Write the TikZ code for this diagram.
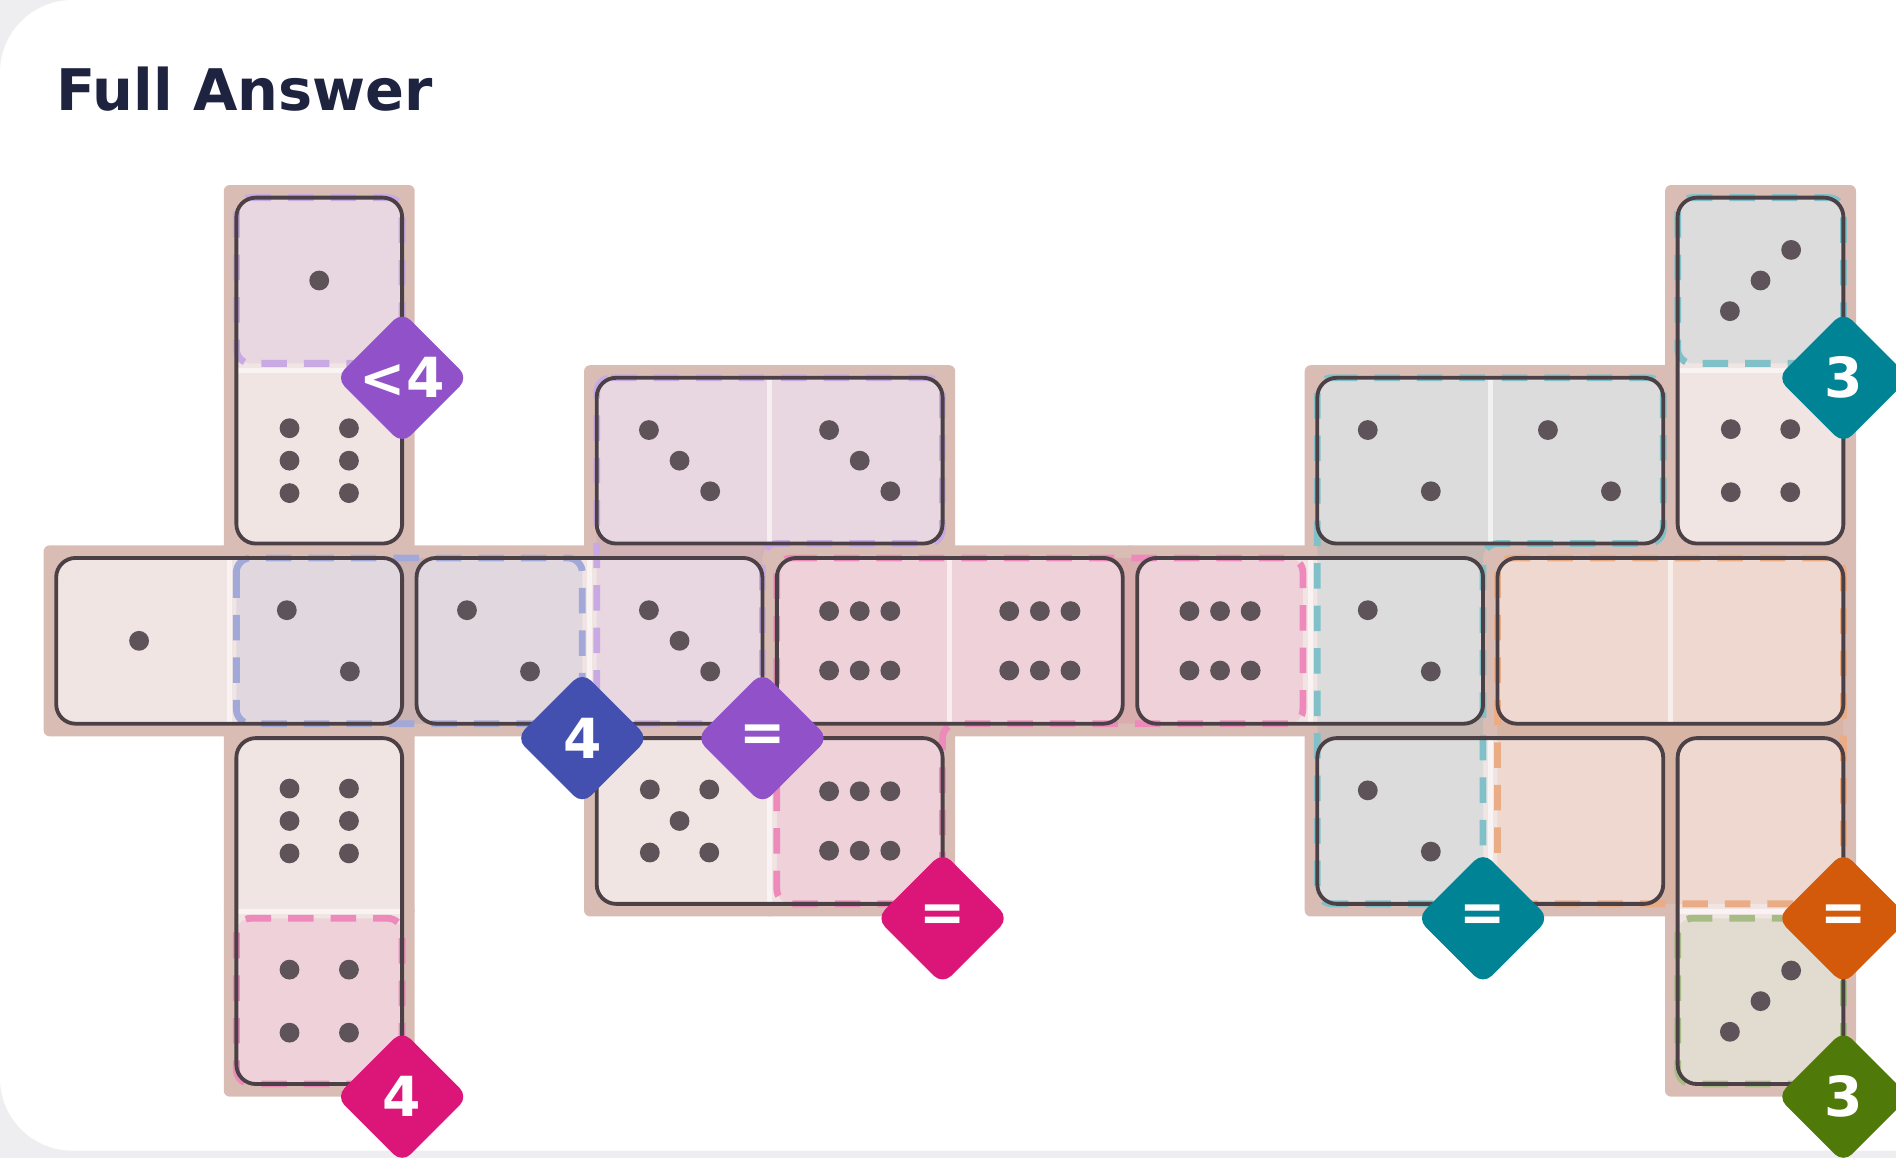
\documentclass[tikz,border=0pt]{standalone}
\usepackage{fontspec}
\setmainfont{DejaVu Sans}
\usetikzlibrary{positioning,shapes.geometric}
\definecolor{pagegrey}{HTML}{EEEEF0}
\definecolor{board}{HTML}{D9BDB4}
\definecolor{cellbase}{HTML}{F1E5E3}
\definecolor{edge}{HTML}{4A4045}
\definecolor{pipc}{HTML}{5E5358}
\definecolor{titlec}{HTML}{1E2440}
\definecolor{purp}{HTML}{9152C9}
\definecolor{teal}{HTML}{008394}
\definecolor{indig}{HTML}{4450B0}
\definecolor{pinkc}{HTML}{DC1578}
\definecolor{orng}{HTML}{D35A0A}
\definecolor{grn}{HTML}{4F7A0A}
\tikzset{
  region/.style={fill=#1, fill opacity=0.09, rounded corners=0.12cm},
  regionline/.style={draw=#1!50, line width=1.6pt, dash pattern=on 6pt off 4pt, rounded corners=0.12cm},
  domino/.style={draw=edge, line width=0.9pt, rounded corners=0.16cm},
  seam/.style={draw=white, opacity=0.6, line width=1.2pt},
  tag/.style={diamond, aspect=1, fill=#1, minimum size=1.1cm, inner sep=0pt, rounded corners=0.1cm,
    text=white, font=\fontsize{13}{13}\selectfont\bfseries}
}
% pip layouts
\def\dieone{0/0}
\def\dietwo{-0.18/-0.17,0.17/0.17}
\def\diethree{-0.17/-0.17,0/0,0.17/0.17}
\def\diethreeb{-0.17/0.17,0/0,0.17/-0.17}
\def\diefour{-0.165/-0.175,0.165/-0.175,-0.165/0.175,0.165/0.175}
\def\diefive{-0.165/-0.175,0.165/-0.175,-0.165/0.175,0.165/0.175,0/0}
\def\diesixv{-0.165/-0.18,0.165/-0.18,-0.165/0,0.165/0,-0.165/0.18,0.165/0.18}
\def\diesixh{-0.17/-0.165,0/-0.165,0.17/-0.165,-0.17/0.165,0/0.165,0.17/0.165}
\newcommand{\putpips}[3]{
  \foreach \dx/\dy in #3 {
    \fill[pipc] (#1+\dx,#2+\dy) circle (0.055);
  }
}
\newcommand{\region}[2]{
  \path[region=#1] #2;
  \path[regionline=#1] #2;
}
\begin{document}
\begin{tikzpicture}[x=1.49cm,y=-1.49cm]
\useasboundingbox (-0.772,-1.557) rectangle (9.752,4.872);
\fill[pagegrey] (-0.772,-1.557) rectangle (9.752,4.872);
\fill[white, rounded corners=0.6cm] (-0.772,-1.557) rectangle (10.5,4.83);
%Title
\node[anchor=west, inner sep=0pt, text=titlec, font=\fontsize{13.5}{13.5}\selectfont\bfseries] (title) at (-0.463,-1.06) {Full Answer};
%Board backdrop
\foreach \c/\r in {1/0,9/0,1/1,3/1,4/1,7/1,8/1,9/1,0/2,1/2,2/2,3/2,4/2,5/2,6/2,7/2,8/2,9/2,1/3,3/3,4/3,7/3,8/3,9/3,1/4,9/4} {
  \fill[board, rounded corners=0.05cm] (\c-0.53,\r-0.53) rectangle (\c+0.53,\r+0.53);
}
%Domino faces
\foreach \a/\b/\cc/\dd in {1/0/1/1,3/1/4/1,0/2/1/2,2/2/3/2,4/2/5/2,6/2/7/2,8/2/9/2,7/1/8/1,9/0/9/1,1/3/1/4,3/3/4/3,7/3/8/3,9/3/9/4} {
  \fill[cellbase, rounded corners=0.16cm] (\a-0.46,\b-0.46) rectangle (\cc+0.46,\dd+0.46);
}
%Regions
\region{purp}{(0.54,-0.46) rectangle (1.46,0.46)}
\region{teal}{(8.54,-0.46) rectangle (9.46,0.46)}
\region{indig}{(0.54,1.54) rectangle (2.46,2.46)}
\region{purp}{(2.54,0.54) -- (4.46,0.54) -- (4.46,1.46) -- (3.46,1.46) -- (3.46,2.46) -- (2.54,2.46) -- cycle}
\region{pinkc}{(3.54,1.54) -- (6.46,1.54) -- (6.46,2.46) -- (4.46,2.46) -- (4.46,3.46) -- (3.54,3.46) -- cycle}
\region{teal}{(6.54,0.54) -- (8.46,0.54) -- (8.46,1.46) -- (7.46,1.46) -- (7.46,3.46) -- (6.54,3.46) -- cycle}
\region{orng}{(7.54,1.54) rectangle (9.46,3.46)}
\region{pinkc}{(0.54,3.54) rectangle (1.46,4.46)}
\region{grn}{(8.54,3.54) rectangle (9.46,4.46)}
%Seams between domino halves
\foreach \x/\y in {3.5/1,0.5/2,2.5/2,4.5/2,6.5/2,8.5/2,7.5/1,3.5/3,7.5/3} {
  \draw[seam] (\x,\y-0.45) -- (\x,\y+0.45);
}
\foreach \x/\y in {1/0.5,9/0.5,1/3.5,9/3.5} {
  \draw[seam] (\x-0.45,\y) -- (\x+0.45,\y);
}
%Dominoes
\foreach \a/\b/\cc/\dd in {1/0/1/1,3/1/4/1,0/2/1/2,2/2/3/2,4/2/5/2,6/2/7/2,8/2/9/2,7/1/8/1,9/0/9/1,1/3/1/4,3/3/4/3,7/3/8/3,9/3/9/4} {
  \draw[domino] (\a-0.46,\b-0.46) rectangle (\cc+0.46,\dd+0.46);
}
%Pips
\putpips{1}{0}{\dieone}
\putpips{1}{1}{\diesixv}
\putpips{3}{1}{\diethree}
\putpips{4}{1}{\diethree}
\putpips{7}{1}{\dietwo}
\putpips{8}{1}{\dietwo}
\putpips{9}{0}{\diethreeb}
\putpips{9}{1}{\diefour}
\putpips{0}{2}{\dieone}
\putpips{1}{2}{\dietwo}
\putpips{2}{2}{\dietwo}
\putpips{3}{2}{\diethree}
\putpips{4}{2}{\diesixh}
\putpips{5}{2}{\diesixh}
\putpips{6}{2}{\diesixh}
\putpips{7}{2}{\dietwo}
\putpips{1}{3}{\diesixv}
\putpips{3}{3}{\diefive}
\putpips{4}{3}{\diesixh}
\putpips{7}{3}{\dietwo}
\putpips{1}{4}{\diefour}
\putpips{9}{4}{\diethreeb}
%Region labels
\node[tag=purp] (lessfour) at (1.46,0.54) {<4};
\node[tag=teal] (topthree) at (9.46,0.54) {3};
\node[tag=indig] (bluefour) at (2.46,2.54) {4};
\node[tag=purp] (purpeq) at (3.46,2.54) {=};
\node[tag=pinkc] (pinkeq) at (4.46,3.54) {=};
\node[tag=teal] (tealeq) at (7.46,3.54) {=};
\node[tag=orng] (orngeq) at (9.46,3.54) {=};
\node[tag=pinkc] (pinkfour) at (1.46,4.53) {4};
\node[tag=grn] (grnthree) at (9.46,4.53) {3};
\end{tikzpicture}
\end{document}
